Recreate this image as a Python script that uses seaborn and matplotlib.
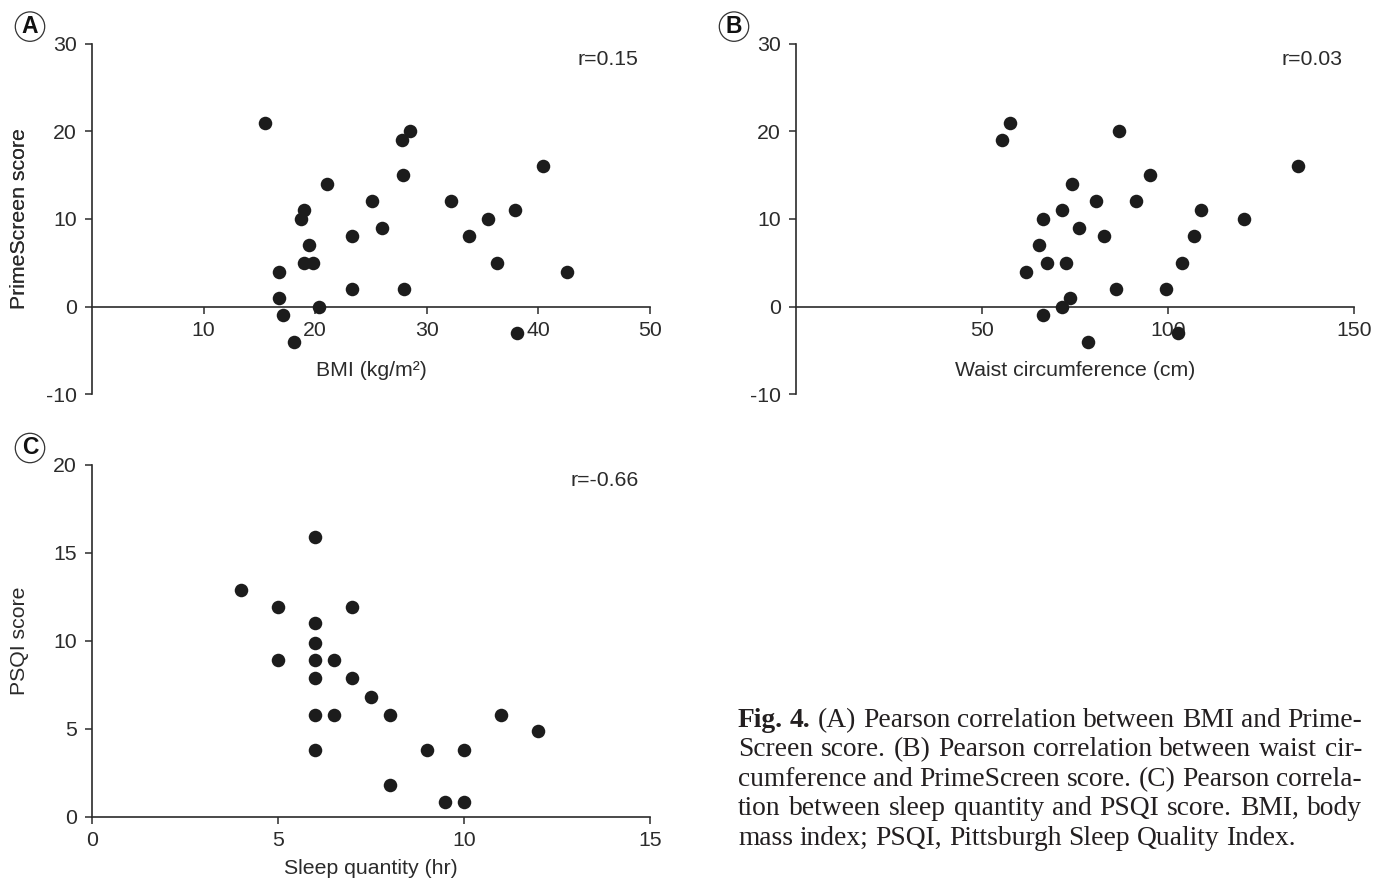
import matplotlib
matplotlib.use("Agg")
import matplotlib.pyplot as plt
import seaborn as sns

# panel A: BMI vs PrimeScreen score
bmi = [15.5, 28.5, 27.8, 27.9, 40.4, 21.1, 25.1, 32.2, 19.0, 18.7, 37.9, 35.5, 26.0, 23.3,
       33.8, 19.4, 19.0, 19.8, 36.3, 16.8, 42.6, 23.3, 28.0, 16.8, 20.3, 17.1, 18.1, 38.1]
prime_a = [21, 20, 19, 15, 16, 14, 12, 12, 11, 10, 11, 10, 9, 8,
           8, 7, 5, 5, 5, 4, 4, 2, 2, 1, 0, -1, -4, -3]

# panel B: waist circumference vs PrimeScreen score
waist = [57.4, 55.3, 86.7, 135.0, 120.5, 108.9, 106.9, 103.8, 99.4, 102.7, 95.1, 91.5, 80.7, 85.9,
         82.7, 76.0, 74.2, 71.6, 72.7, 73.6, 71.6, 78.6, 66.4, 65.3, 67.5, 61.9, 66.4]
prime_b = [21, 19, 20, 16, 10, 11, 8, 5, 2, -3, 15, 12, 12, 2,
           8, 9, 14, 11, 5, 1, 0, -4, 10, 7, 5, 4, -1]

# panel C: sleep quantity vs PSQI score
sleep = [4, 5, 5, 6, 6, 6, 6, 6, 6, 6, 6.5, 6.5, 7, 7, 7.5, 8, 8, 9, 10, 9.5, 10, 11, 12]
psqi = [12.9, 11.9, 8.9, 15.9, 11.0, 9.9, 8.9, 7.9, 5.8, 3.8, 8.9, 5.8, 11.9, 7.9, 6.8, 5.8,
        1.8, 3.8, 3.8, 0.85, 0.85, 5.8, 4.9]

caption = [
    "Fig. 4. (A) Pearson correlation between BMI and Prime-",
    "Screen score. (B) Pearson correlation between waist cir-",
    "cumference and PrimeScreen score. (C) Pearson correla-",
    "tion between sleep quantity and PSQI score. BMI, body",
    "mass index; PSQI, Pittsburgh Sleep Quality Index.",
]

sns.set_style("ticks")
plt.rcParams["font.family"] = ["Liberation Sans", "DejaVu Sans"]
ink = "#2b2b2b"
fs = 15.3
plt.rcParams.update({
    "axes.unicode_minus": False,
    "axes.edgecolor": ink, "axes.linewidth": 1.2,
    "xtick.color": ink, "ytick.color": ink,
    "xtick.labelcolor": ink, "ytick.labelcolor": ink,
    "xtick.major.size": 5, "ytick.major.size": 5,
    "xtick.major.width": 1.1, "ytick.major.width": 1.1,
    "xtick.major.pad": 5, "ytick.major.pad": 6,
    "xtick.labelsize": fs, "ytick.labelsize": fs,
    "axes.labelsize": fs, "axes.labelcolor": ink,
})

W, H = 1380, 886
fig = plt.figure(figsize=(W / 100, H / 100), dpi=100)


def box(l, r, t, b):
    return [l / W, (H - b) / H, (r - l) / W, (b - t) / H]


panels = [
    dict(rect=box(92, 650, 43.6, 394.3), x=bmi, y=prime_a, xlim=(0, 50), ylim=(-10, 30),
         xt=[10, 20, 30, 40, 50], yt=[-10, 0, 10, 20, 30], xlab="BMI (kg/m²)",
         ylab="PrimeScreen score", r="r=0.15", tag="A", zero_axis=True, xl_y=370),
    dict(rect=box(796, 1354, 43.6, 394.3), x=waist, y=prime_b, xlim=(0, 150), ylim=(-10, 30),
         xt=[50, 100, 150], yt=[-10, 0, 10, 20, 30], xlab="Waist circumference (cm)",
         ylab="PrimeScreen score", r="r=0.03", tag="B", zero_axis=True, xl_y=370),
    dict(rect=box(92, 650, 465, 816.7), x=sleep, y=psqi, xlim=(0, 15), ylim=(0, 20),
         xt=[0, 5, 10, 15], yt=[0, 5, 10, 15, 20], xlab="Sleep quantity (hr)",
         ylab="PSQI score", r="r=-0.66", tag="C", zero_axis=False, xl_y=869),
]

for p in panels:
    ax = fig.add_axes(p["rect"])
    sns.scatterplot(x=p["x"], y=p["y"], ax=ax, color="#1c1c1c", s=95, linewidth=0, zorder=3,
                    clip_on=False)
    ax.set_xlim(*p["xlim"])
    ax.set_ylim(*p["ylim"])
    ax.set_xticks(p["xt"])
    ax.set_yticks(p["yt"])
    sns.despine(ax=ax)
    if p["zero_axis"]:
        ax.spines["bottom"].set_position(("data", 0))
    ax.set_xlabel(p["xlab"])
    ax.set_ylabel(p["ylab"])
    l, b, w, h = p["rect"]
    ax.xaxis.set_label_coords(0.5, (H - p["xl_y"] - b * H) / (h * H))
    ax.xaxis.label.set_va("center")
    ax.yaxis.set_label_coords((20 - l * W) / (w * W), 0.5)
    ax.yaxis.label.set_va("center")
    ax.text(0.98, 0.955, p["r"], transform=ax.transAxes, ha="right", va="center",
            fontsize=fs, color=ink)
    tx = (l * W - 62) / W
    ty = (b + h) + 17 / H
    fig.text(tx, ty, p["tag"], ha="center", va="center", fontsize=16.5, fontweight="bold",
             color="#111111",
             bbox=dict(boxstyle="circle,pad=0.14", fc="white", ec="#333333", lw=0.9))

# justified caption block
serif = ["Liberation Serif", "DejaVu Serif"]
x0, x1 = 738, 1362
base0, step = 727, 29.4
renderer = fig.canvas.get_renderer()


def width(word, bold, size):
    t = fig.text(0, 0, word, fontsize=size, family=serif,
                 fontweight="bold" if bold else "normal")
    wd = t.get_window_extent(renderer).width
    t.remove()
    return wd


# fit the font so the widest justified line sets naturally
natural = max(width(line, False, 10) for line in caption[:-1])
cap_fs = 10 * (x1 - x0) / natural

for i, line in enumerate(caption):
    words = line.split(" ")
    bold = [i == 0 and j < 2 for j in range(len(words))]
    widths = [width(wd, bf, cap_fs) for wd, bf in zip(words, bold)]
    if i < len(caption) - 1:
        gap = (x1 - x0 - sum(widths)) / (len(words) - 1)
    else:
        gap = width("a b", False, cap_fs) - width("ab", False, cap_fs)
    x = x0
    y = H - (base0 + i * step)
    for wd, bf, ww in zip(words, bold, widths):
        fig.text(x / W, y / H, wd, fontsize=cap_fs, family=serif, color="#231f20",
                 fontweight="bold" if bf else "normal", ha="left", va="baseline")
        x += ww + gap

fig.savefig("out.png", dpi=100)
